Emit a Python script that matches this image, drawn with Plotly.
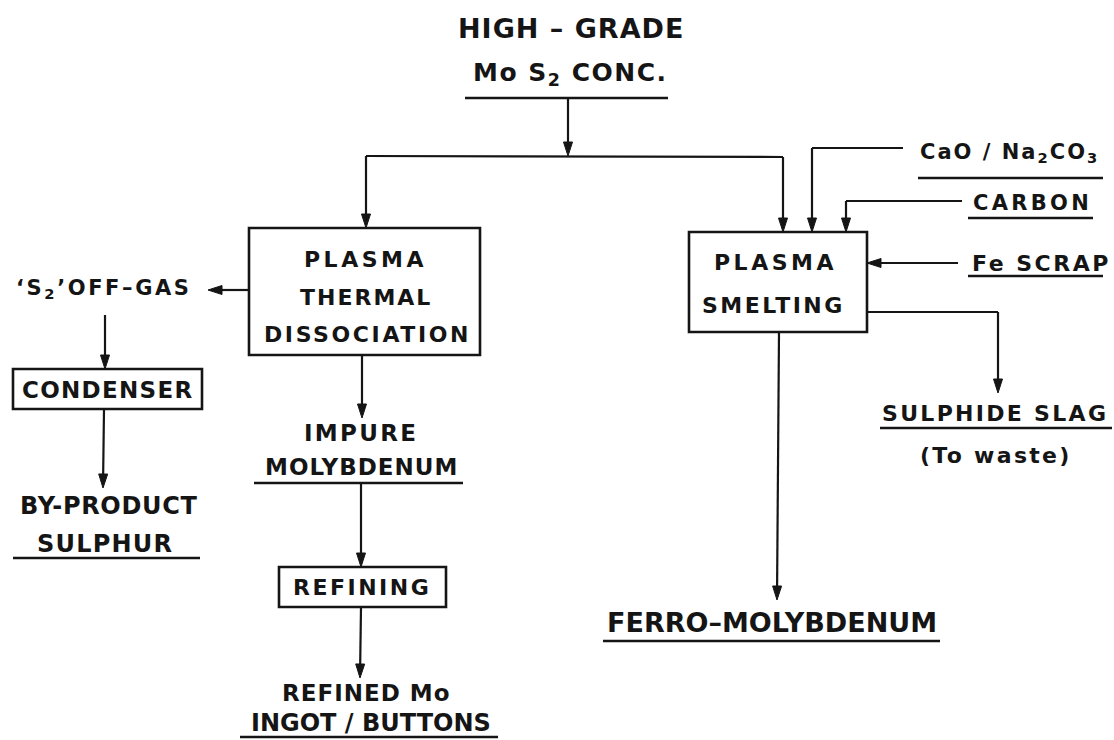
import math
import plotly.graph_objects as go

# ---------------- text content ----------------
feed_lines = ["HIGH – GRADE", "Mo S<sub>2</sub> CONC."]
thermal_lines = ["PLASMA", "THERMAL", "DISSOCIATION"]
smelting_lines = ["PLASMA", "SMELTING"]
additive_lines = ["CaO / Na<sub>2</sub>CO<sub>3</sub>", "CARBON", "Fe SCRAP"]
gas_lines = ["‘S<sub>2</sub>’OFF–GAS", "CONDENSER", "BY-PRODUCT", "SULPHUR"]
metal_lines = ["IMPURE", "MOLYBDENUM", "REFINING", "REFINED Mo", "INGOT / BUTTONS"]
alloy_lines = ["FERRO–MOLYBDENUM"]
slag_lines = ["SULPHIDE SLAG", "(To waste)"]

# ---------------- layout (pixel canvas) ----------------
W, H = 1114, 740
INK = "#151515"
FONT = "DejaVu Sans"

# (cx, cy, size, letter-spacing) for each text line, same order as lists above
feed_pos = [(571, 28, 27, 1.0), (570, 74, 25, 1.5)]
thermal_pos = [(365, 259, 22, 3.5), (366, 297, 22, 2.0), (367, 334, 22, 2.6)]
smelting_pos = [(775, 262, 22, 3.5), (773, 305, 22, 2.5)]
additive_pos = [(1009, 153, 21, 2.0), (1032, 203, 21, 3.3), (1041, 263, 22, 2.5)]
gas_pos = [(104, 289, 21, 2.6), (107, 390, 23, 1.3), (109, 506, 24, 0.7), (105, 544, 24, 1.2)]
metal_pos = [(361, 433, 23, 2.3), (361, 467, 23, 1.0), (362, 587, 22, 2.5),
             (366, 693, 23, 1.0), (371, 723, 24, 0.0)]
alloy_pos = [(772, 622, 27, 0.0)]
slag_pos = [(995, 413, 22, 2.3), (996, 455, 22, 2.3)]

# boxes: (x0, y0, x1, y1)
boxes = [(249, 228, 480, 355),   # thermal dissociation
         (689, 232, 867, 332),   # smelting
         (13, 369, 202, 409),    # condenser
         (279, 567, 446, 607)]   # refining

# underlines: (x0, x1, y)
underlines = [(465, 668, 98), (918, 1103, 178), (968, 1093, 218), (968, 1103, 276),
              (254, 463, 483), (13, 200, 558), (240, 498, 737), (603, 940, 641),
              (880, 1112, 428)]

# connector polylines; last segment ends with an arrowhead when flagged
connectors = [
    ([(568, 98), (568, 156)], True),
    ([(366, 156), (783, 157)], False),
    ([(366, 156), (366, 228)], True),
    ([(783, 157), (783, 232)], True),
    ([(903, 148), (812, 148), (812, 232)], True),
    ([(962, 201), (846, 201), (846, 232)], True),
    ([(958, 263), (867, 263)], True),
    ([(249, 290), (208, 290)], True),
    ([(105, 315), (105, 369)], True),
    ([(104, 409), (103, 488)], True),
    ([(362, 355), (362, 418)], True),
    ([(361, 483), (361, 567)], True),
    ([(361, 607), (360, 678)], True),
    ([(779, 332), (777, 600)], True),
    ([(867, 312), (998, 312), (998, 393)], True),
]

shapes = []
for x0, y0, x1, y1 in boxes:
    shapes.append(dict(type="rect", x0=x0, y0=y0, x1=x1, y1=y1, xref="x", yref="y",
                       line=dict(color=INK, width=2.6)))
for x0, x1, y in underlines:
    shapes.append(dict(type="line", x0=x0, y0=y, x1=x1, y1=y, xref="x", yref="y",
                       line=dict(color=INK, width=2.4)))

AL, AW = 14, 4.5
for pts, head in connectors:
    pts = list(pts)
    if head:
        (xa, ya), (xb, yb) = pts[-2], pts[-1]
        d = math.hypot(xb - xa, yb - ya)
        ux, uy = (xb - xa) / d, (yb - ya) / d
        bx, by = xb - ux * AL, yb - uy * AL
        nx, ny = -uy, ux
        path = (f"M {xb} {yb} L {bx + nx * AW} {by + ny * AW} "
                f"L {bx - nx * AW} {by - ny * AW} Z")
        shapes.append(dict(type="path", path=path, xref="x", yref="y",
                           fillcolor=INK, line=dict(color=INK, width=1)))
        pts[-1] = (bx + ux * 2, by + uy * 2)
    for (xa, ya), (xb, yb) in zip(pts[:-1], pts[1:]):
        shapes.append(dict(type="line", x0=xa, y0=ya, x1=xb, y1=yb, xref="x", yref="y",
                           line=dict(color=INK, width=2.2)))

annotations = []
groups = [(feed_lines, feed_pos), (thermal_lines, thermal_pos), (smelting_lines, smelting_pos),
          (additive_lines, additive_pos), (gas_lines, gas_pos), (metal_lines, metal_pos),
          (alloy_lines, alloy_pos), (slag_lines, slag_pos)]
for lines, pos in groups:
    for txt, (cx, cy, size, sp) in zip(lines, pos):
        annotations.append(dict(
            x=cx, y=cy, xref="x", yref="y", showarrow=False,
            xanchor="center", yanchor="middle",
            text=f'<span style="letter-spacing:{sp}px"><b>{txt}</b></span>',
            font=dict(family=FONT, size=size, color=INK)))

fig = go.Figure()
fig.add_trace(go.Scatter(x=[0, W], y=[0, H], mode="markers",
                         marker=dict(opacity=0), hoverinfo="skip", showlegend=False))
fig.update_layout(width=W, height=H, margin=dict(l=0, r=0, t=0, b=0),
                  paper_bgcolor="white", plot_bgcolor="white",
                  shapes=shapes, annotations=annotations, showlegend=False)
fig.update_xaxes(range=[0, W], visible=False, fixedrange=True)
fig.update_yaxes(range=[H, 0], visible=False, fixedrange=True)

fig.write_html("out.html", config={"displayModeBar": False},
               post_script="document.body.style.margin='0';document.body.style.overflow='hidden';")
